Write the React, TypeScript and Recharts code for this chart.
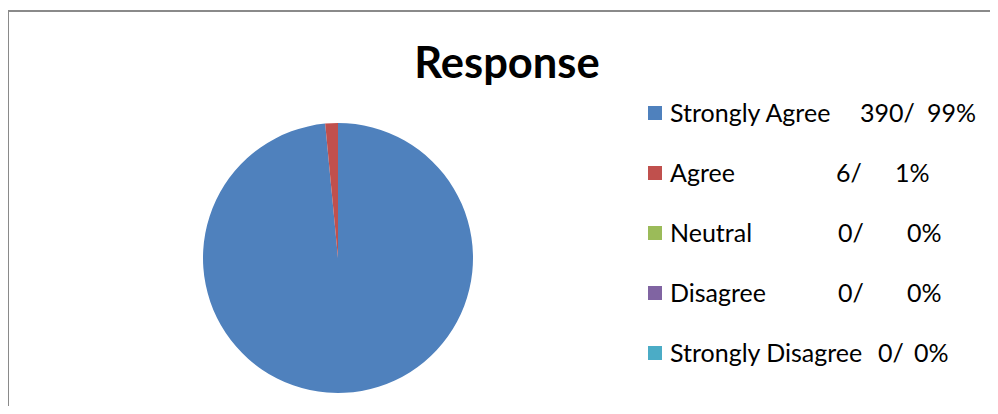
import { PieChart, Pie, Cell, Legend } from "recharts";

const categories = ["Strongly Agree", "Agree", "Neutral", "Disagree", "Strongly Disagree"];
const counts = [390, 6, 0, 0, 0];
const percents = [99, 1, 0, 0, 0];
const colors = ["#4F81BD", "#C0504D", "#9BBB59", "#8064A2", "#4BACC6"];

const data = categories.map((name, i) => ({ name, value: counts[i] }));

// where the "n/" and "p%" bits sit on each legend row (the source used spaces)
const countX = [860, 836, 838, 838, 878];
const pctX = [927, 895, 907, 907, 914];

const FONT = "Lato, 'Open Sans', sans-serif";

// zero-height box so the legend doesn't eat into the plot area
const ResponseLegend = () => (
  <div style={{ position: "relative", width: 998, height: 0, overflow: "visible", fontFamily: FONT }}>
    {categories.map((name, i) => {
      const cy = 113 + i * 60;
      return (
        <div key={name}>
          <div
            style={{
              position: "absolute",
              left: 648,
              top: cy - 7,
              width: 14,
              height: 14,
              background: colors[i],
            }}
          />
          {[
            { x: 670, t: name },
            { x: countX[i], t: `${counts[i]}/` },
            { x: pctX[i], t: `${percents[i]}%` },
          ].map((s) => (
            <span
              key={s.x}
              style={{
                position: "absolute",
                left: s.x,
                top: cy - 16,
                lineHeight: "30px",
                fontSize: 25,
                color: "#000",
                whiteSpace: "pre",
              }}
            >
              {s.t}
            </span>
          ))}
        </div>
      );
    })}
  </div>
);

export default function App() {
  return (
    <div style={{ position: "relative", width: 998, height: 414, margin: -8, overflow: "hidden", background: "#fff" }}>
      <div
        style={{
          position: "absolute",
          left: 7,
          top: 10,
          width: 1020,
          height: 430,
          border: "2px solid #8a8a8a",
        }}
      />
      <div
        style={{
          position: "absolute",
          left: 0,
          width: 1014,
          top: 36,
          textAlign: "center",
          fontFamily: FONT,
          fontWeight: 700,
          fontSize: 43.5,
          lineHeight: "50px",
          color: "#000",
        }}
      >
        Response
      </div>
      <div style={{ position: "absolute", left: 0, top: 0 }}>
        <PieChart width={998} height={414} margin={{ top: 0, right: 0, bottom: 0, left: 0 }}>
          <Pie
            data={data}
            dataKey="value"
            nameKey="name"
            cx={338}
            cy={258}
            outerRadius={135}
            startAngle={90}
            endAngle={-270}
            stroke="none"
            isAnimationActive={false}
          >
            {data.map((d, i) => (
              <Cell key={d.name} fill={colors[i]} />
            ))}
          </Pie>
          <Legend
            verticalAlign="top"
            content={() => <ResponseLegend />}
            wrapperStyle={{ left: 0, top: 0, width: 998, height: 0 }}
          />
        </PieChart>
      </div>
    </div>
  );
}
